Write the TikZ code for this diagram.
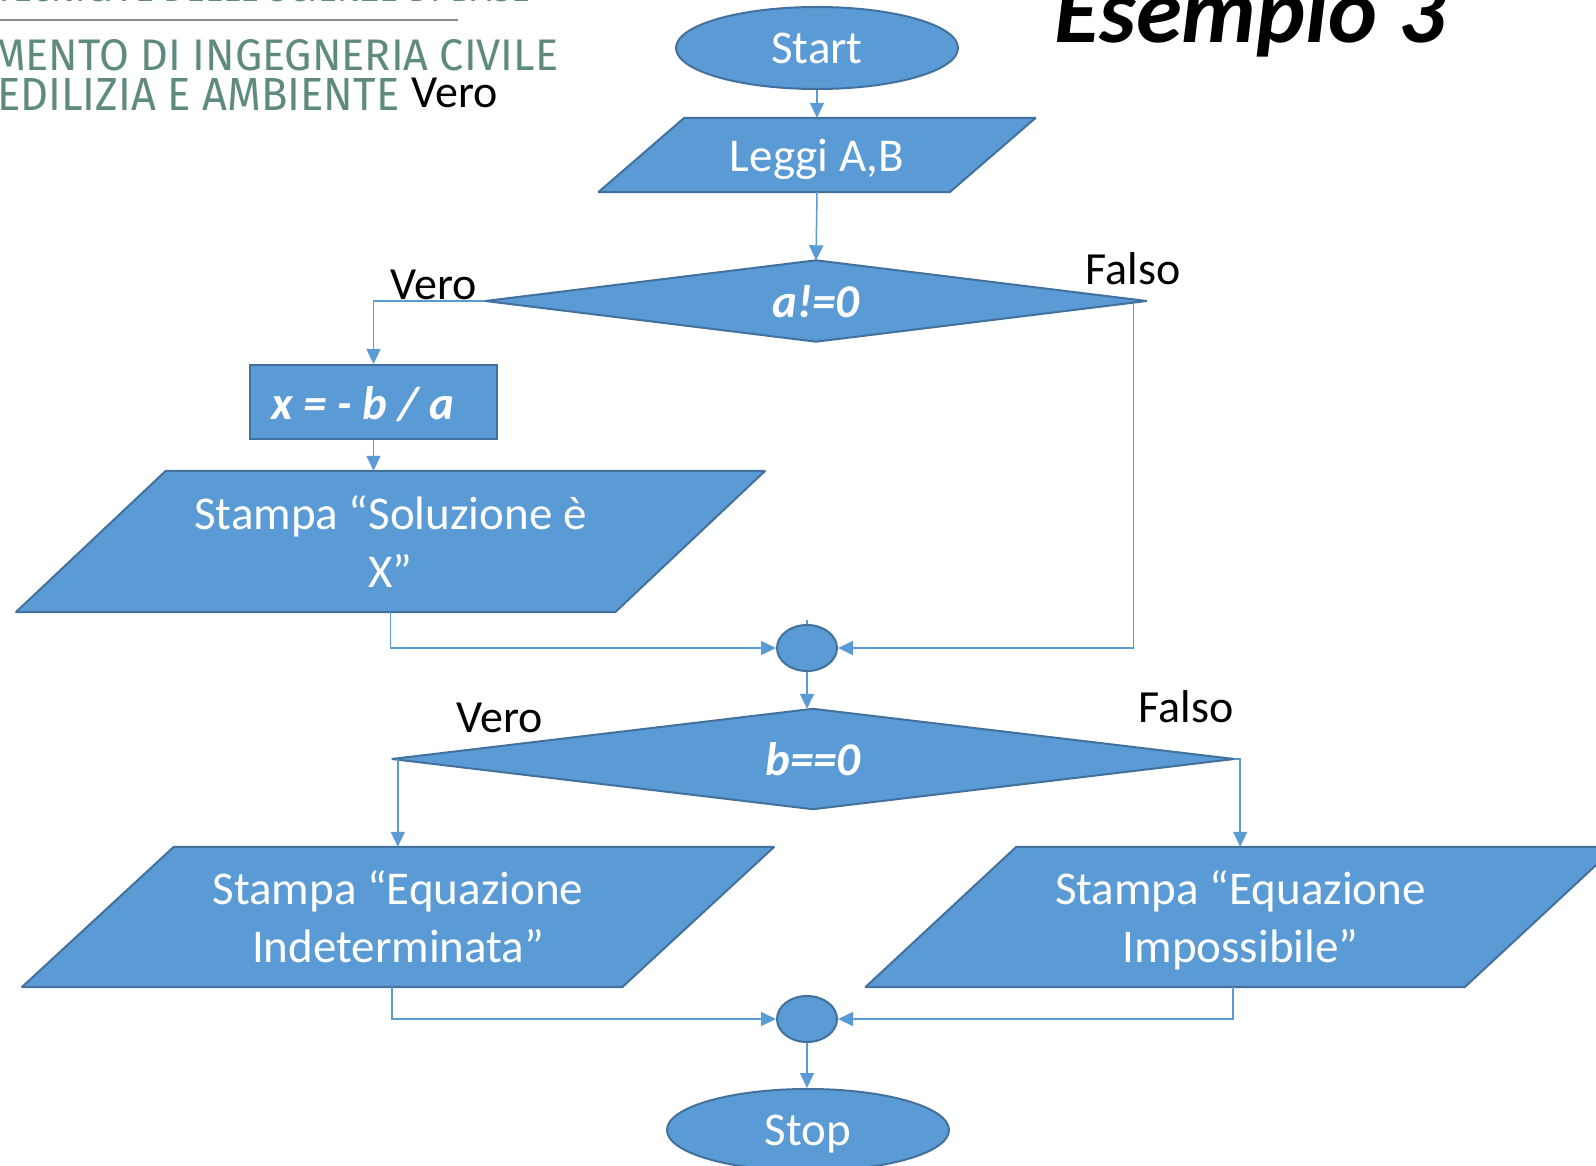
\documentclass[tikz,border=0pt]{standalone}
\usepackage{fontspec}
\setmainfont{Carlito}
\newfontfamily\headfont{Fira Sans}
\usetikzlibrary{shapes.geometric,arrows.meta,calc,backgrounds}
\definecolor{boxfill}{HTML}{5B9BD5}
\definecolor{boxline}{HTML}{41719C}
\definecolor{headgreen}{RGB}{95,139,127}
\definecolor{rulegray}{RGB}{140,140,140}
% parallelogram behind an I/O node: #1 node, #2 half of the horizontal slant
\newcommand\ioshape[2]{%
  \path[shapefill] ($(#1.south west)+(-#2,0)$) -- ($(#1.south east)+(-#2,0)$)
    -- ($(#1.north east)+(#2,0)$) -- ($(#1.north west)+(#2,0)$) -- cycle;}
% diamond behind a decision node
\newcommand\decshape[1]{%
  \path[shapefill] (#1.west) -- (#1.north) -- (#1.east) -- (#1.south) -- cycle;}
\begin{document}
\begin{tikzpicture}[x=1pt,y=-1pt,
  shapefill/.style={fill=boxfill,draw=boxline,line width=2pt,miter limit=2},
  body/.style={text=white,inner sep=0pt,text depth=0pt,font=\fontsize{47}{58}\selectfont},
  terminal/.style={body,shapefill,ellipse,minimum width=282pt,minimum height=82pt},
  joint/.style={shapefill,ellipse,minimum width=60pt,minimum height=46pt,inner sep=0pt},
  decision/.style={body,font=\fontsize{47}{58}\selectfont\bfseries\itshape},
  process/.style={shapefill,rectangle,inner sep=0pt},
  formula/.style={body,font=\fontsize{47}{58}\selectfont\bfseries\itshape},
  iobox/.style={body,align=center},
  link/.style={draw=boxfill,line width=1.5pt,-{Triangle[length=15pt,width=14pt]}},
  plain/.style={draw=boxfill,line width=1.5pt},
  branch/.style={font=\fontsize{46}{56}\selectfont,inner sep=0pt,anchor=base},
  head/.style={inner sep=0pt,anchor=south west,text=headgreen,font=\headfont},
]
\useasboundingbox (0,0) rectangle (1596,1166);

% header of the slide
\draw[rulegray,line width=2pt] (0,20) -- (458,20);
\node[head] (h0) at (-5,2.5) {\resizebox{535pt}{24pt}{TECNICA E DELLE SCIENZE DI BASE}};
\node[head] (h1) at (-8,71) {\resizebox{566pt}{31pt}{MENTO DI INGEGNERIA CIVILE}};
\node[head] (h2) at (-3,111) {\resizebox{402pt}{32pt}{EDILIZIA E AMBIENTE}};
\node[branch] (v0) at (455,108) {Vero};
\node[inner sep=0pt,anchor=base,font=\fontsize{93}{100}\selectfont\bfseries\itshape] (title) at (1250,43) {Esempio 3};

% flowchart blocks
\node[terminal] (start) at (817,48) {Start};
\node[iobox,minimum width=351pt,minimum height=74pt] (leggi) at (817,155) {Leggi A,B};
\node[decision,minimum width=661pt,minimum height=81pt] (a0) at (816,301) {a!=0};
\node[process,minimum width=247pt,minimum height=74pt] (xb) at (373.5,402) {};
\node[formula] (xbt) at (363,403) {x = - b / a};
\node[iobox,minimum width=599pt,minimum height=141pt] (sol) at (390.5,541.5) {Stampa “Soluzione è\\X”};
\node[joint] (c1) at (807,648) {};
\node[decision,minimum width=842pt,minimum height=100pt] (b0) at (813,759) {b==0};
\node[iobox,minimum width=600pt,minimum height=140pt] (ind) at (398,917) {Stampa “Equazione\\Indeterminata”};
\node[iobox,minimum width=599pt,minimum height=140pt] (imp) at (1240.5,917) {Stampa “Equazione\\Impossibile”};
\node[joint] (c2) at (807,1019) {};
\node[terminal] (stop) at (808,1130) {Stop};

\begin{scope}[on background layer]
  \fill[white] (0,0) rectangle (1596,1166);
  \ioshape{leggi}{43}
  \ioshape{sol}{75}
  \ioshape{ind}{76}
  \ioshape{imp}{75.5}
  \decshape{a0}
  \decshape{b0}
\end{scope}

% branch labels
\node[branch] (v1) at (434,300) {Vero};
\node[branch] (f1) at (1133,285) {Falso};
\node[branch] (v2) at (500,732) {Vero};
\node[branch] (f2) at (1186,722) {Falso};

% connectors
\draw[link] (start.south) -- (leggi.north);
\draw[link] (leggi.south) -- (a0.north);
\draw[link] (a0.west) -| (xb.north);
\draw[link] (xb.south) -- (xb.south |- sol.north);
\coordinate (fa) at ($(a0.east)+(-13,2)$);
\draw[link] (fa) |- (c1.east);
\draw[link] (sol.south) |- (c1.west);
\draw[plain] (c1.north) -- ++(0,-4);
\draw[link] (c1.south) -- (c1.south |- b0.north);
\coordinate (vb) at ($(b0.west)+(6,0)$);
\draw[link] (vb) -- (vb |- ind.north);
\coordinate (fb) at ($(b0.east)+(6,0)$);
\draw[link] (b0.east) -- (fb) -- (fb |- imp.north);
\coordinate (ib) at ($(ind.south)+(-6,0)$);
\draw[link] (ib) |- (c2.west);
\coordinate (pb) at ($(imp.south)+(-7.5,0)$);
\draw[link] (pb) |- (c2.east);
\draw[link] (c2.south) -- (c2.south |- stop.north);
\end{tikzpicture}
\end{document}
